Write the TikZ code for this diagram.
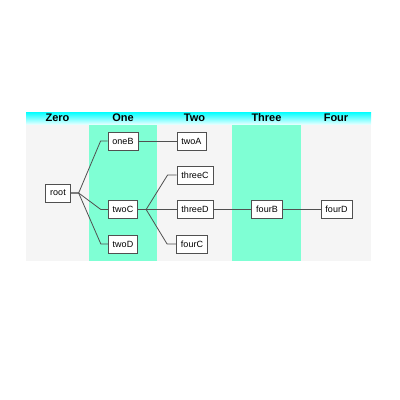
\documentclass[tikz,border=0pt]{standalone}
\usepackage{fontspec}
\setmainfont{Liberation Sans}
\definecolor{laneaqua}{RGB}{127,255,212}
\definecolor{lanegray}{RGB}{245,245,245}
\definecolor{linegray}{RGB}{80,80,80}
\tikzset{
  box/.style={draw=linegray, fill=white, line width=0.8pt, minimum height=18pt, inner xsep=4.5pt, inner ysep=0pt, font=\fontsize{9}{10}\selectfont},
  head/.style={font=\fontsize{11}{12}\selectfont\bfseries},
  link/.style={draw=linegray, line width=0.8pt}
}
\begin{document}
\begin{tikzpicture}[x=1pt,y=-1pt]
\useasboundingbox (0,0) rectangle (400,400);

% Lanes
    \fill[lanegray] (26,124) rectangle (371,261);
    \fill[laneaqua] (89,124) rectangle (157,261);
    \fill[laneaqua] (232,124) rectangle (301,261);
% Header
    \shade[top color=cyan, bottom color=cyan!12] (26,112) rectangle (371,124);
    \node[head] (hZero) at (57.5,118) {Zero};
    \node[head] (hOne) at (123,118) {One};
    \node[head] (hTwo) at (194.5,118) {Two};
    \node[head] (hThree) at (266.5,118) {Three};
    \node[head] (hFour) at (336,118) {Four};

% Boxes
    \node[box] (root) at (58,193) {root};
    \node[box] (oneB) at (123,141) {oneB};
    \node[box] (twoC) at (123,209.5) {twoC};
    \node[box] (twoD) at (123,244) {twoD};
    \node[box] (twoA) at (191.5,141) {twoA};
    \node[box] (threeC) at (195,175) {threeC};
    \node[box] (threeD) at (195,209.5) {threeD};
    \node[box] (fourC) at (192,244) {fourC};
    \node[box] (fourB) at (267,209.5) {fourB};
    \node[box] (fourD) at (336.5,209.5) {fourD};

% Links
    \foreach \kid in {oneB,twoC,twoD}
      \draw[link] (root.east) -- ++(8,0) -- ([xshift=-7]\kid.west) -- (\kid.west);
    \foreach \kid in {threeC,threeD,fourC}
      \draw[link] (twoC.east) -- ++(8,0) -- ([xshift=-9]\kid.west) -- (\kid.west);
    \draw[link] (oneB) -- (twoA);
    \draw[link] (threeD) -- (fourB);
    \draw[link] (fourB) -- (fourD);
\end{tikzpicture}
\end{document}
